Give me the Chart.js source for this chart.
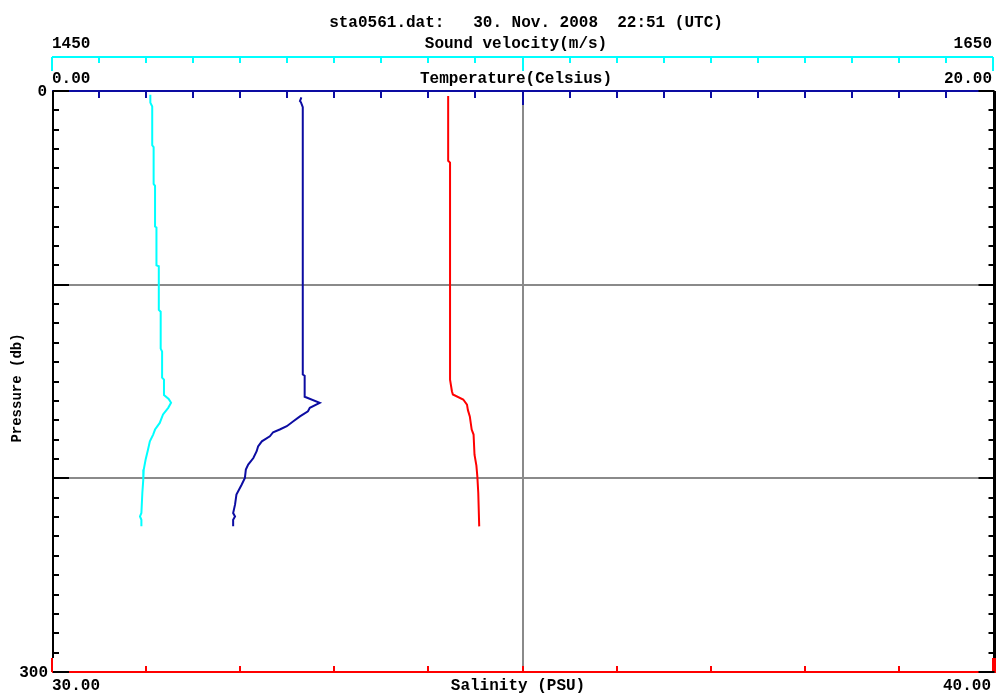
<!DOCTYPE html>
<html>
<head>
<meta charset="utf-8">
<title>sta0561 CTD profile</title>
<script src="https://cdn.jsdelivr.net/npm/chart.js@4"></script>
<style>
    html, body { margin: 0; padding: 0; background: #fff; }
    #wrap { width: 996px; height: 696px; position: relative; }
</style>
</head>
<body>
<div id="wrap"><canvas id="ctdChart"></canvas></div>
<script>
// Daten aus sta0561.dat
const soundPressure = [2, 6, 8, 28, 29, 48, 49, 70, 70.5, 90, 90.5, 113, 114, 133, 134.5, 148, 149, 157, 159, 161,
    163.6, 167, 171.4, 174.8, 177.4, 180.9, 185.2, 190.3, 195.5, 200.7, 207.6, 217.9, 219.7, 221.4, 224.8];
const soundVelocity = [1470.9, 1470.9, 1471.3, 1471.3, 1471.6, 1471.6, 1471.9, 1471.9, 1472.2, 1472.2, 1472.7, 1472.7,
    1473.1, 1473.1, 1473.4, 1473.4, 1473.8, 1473.8, 1474.8, 1475.3, 1474.7, 1473.6, 1472.9, 1471.9, 1471.5, 1470.8,
    1470.4, 1469.9, 1469.5, 1469.4, 1469.2, 1469.0, 1468.7, 1469.0, 1469.0];

const tempPressure = [3.3, 5.2, 5.8, 8.4, 146.4, 147, 157.9, 161, 163.6, 165.4, 168, 170.5, 173.1, 174.8, 176.2,
    178.3, 180.9, 183.5, 186, 189.5, 192.9, 195.5, 199.8, 203.3, 208.4, 213.6, 217.9, 219.7, 221.4, 224.8];
const temperature = [5.30, 5.27, 5.29, 5.33, 5.33, 5.37, 5.37, 5.69, 5.48, 5.44, 5.27, 5.13, 4.99, 4.84, 4.70,
    4.63, 4.46, 4.38, 4.35, 4.28, 4.17, 4.12, 4.10, 4.03, 3.92, 3.89, 3.85, 3.89, 3.85, 3.85];

const salPressure = [2.6, 36, 37, 149, 155, 156.7, 159.3, 161.9, 164.8, 168, 174.8, 177.4, 187.8, 193.4, 199, 207.6, 224.8];
const salinity = [34.21, 34.21, 34.23, 34.23, 34.25, 34.26, 34.37, 34.41, 34.42, 34.44, 34.46, 34.48, 34.49, 34.51,
    34.52, 34.53, 34.54];

// Achsen
const soundRange = [1450, 1650];
const tempRange = [0, 20];
const salRange = [30, 40];
const pressRange = [0, 300];
const soundTicks = ['1450', '1650'];
const tempTicks = ['0.00', '20.00'];
const salTicks = ['30.00', '40.00'];
const pressTicks = ['0', '300'];
const pressGrid = [100, 200];

const titleText = 'sta0561.dat:   30. Nov. 2008  22:51 (UTC)';

const CYAN = '#00ffff';
const NAVY = '#0c0ca2';
const RED = '#ff0000';
const GREY = '#8a8a8a';
const FONT = 'bold 16px "Liberation Mono", "Courier New", monospace';

const toPoints = (xs, ps) => xs.map((v, i) => ({ x: v, y: ps[i] }));

function seg(ctx, x1, y1, x2, y2, color, w) {
    ctx.strokeStyle = color;
    ctx.lineWidth = w;
    ctx.beginPath();
    ctx.moveTo(x1, y1);
    ctx.lineTo(x2, y2);
    ctx.stroke();
}

function text(ctx, str, x, y, align) {
    ctx.textAlign = align;
    ctx.fillText(str, x, y);
}

const ctdAxes = {
    id: 'ctdAxes',
    beforeDatasetsDraw(chart) {
        const { ctx, chartArea: a, scales } = chart;
        ctx.save();
        // Gitterlinien
        pressGrid.forEach(p => {
            const y = Math.round(scales.y.getPixelForValue(p));
            seg(ctx, a.left, y, a.right, y, GREY, 2);
        });
        const xm = Math.round(scales.x.getPixelForValue((tempRange[0] + tempRange[1]) / 2));
        seg(ctx, xm, a.top, xm, a.bottom, GREY, 2);
        ctx.restore();
    },
    afterDatasetsDraw(chart) {
        const { ctx, chartArea: a, scales } = chart;
        const sv = scales.xSound, te = scales.x, sa = scales.xSal, pr = scales.y;
        ctx.save();

        // Schallgeschwindigkeit (oben, cyan)
        const ys = a.top - 34;
        seg(ctx, a.left, ys, a.right, ys, CYAN, 2);
        for (let i = 0; i <= 20; i++) {
            const x = Math.round(sv.getPixelForValue(soundRange[0] + i * 10));
            const big = i === 0 || i === 10 || i === 20;
            seg(ctx, x, ys, x, ys + (big ? 14 : 6), CYAN, 2);
        }

        // Temperatur (oben, blau)
        const yt = a.top;
        for (let i = 1; i < 20; i++) {
            const x = Math.round(te.getPixelForValue(tempRange[0] + i));
            seg(ctx, x, yt, x, yt + (i === 10 ? 14 : 7), NAVY, 2);
        }
        seg(ctx, a.left, yt, a.right, yt, NAVY, 2);

        // Salzgehalt (unten, rot)
        const yb = a.bottom;
        seg(ctx, a.left, yb, a.right, yb, RED, 2);
        for (let i = 0; i <= 10; i++) {
            const x = Math.round(sa.getPixelForValue(salRange[0] + i));
            const end = i === 0 || i === 10;
            seg(ctx, x, yb, x, yb - (end ? 14 : 6), RED, 2);
        }

        // Druck (links und rechts, schwarz)
        const xl = a.left + 1, xr = a.right + 1.5;
        seg(ctx, xl, a.top, xl, a.bottom - 14, '#000', 2);
        seg(ctx, xr, a.top, xr, a.bottom - 14, '#000', 3);
        seg(ctx, xr, a.bottom - 14, xr, a.bottom + 1, RED, 3);
        for (let p = pressRange[0]; p <= pressRange[1]; p += 10) {
            const y = Math.round(pr.getPixelForValue(p));
            const len = p % 100 === 0 ? 16 : 6;
            seg(ctx, xl, y, xl + len, y, '#000', 2);
            seg(ctx, xr, y, xr - len, y, '#000', 2);
        }

        // Beschriftung
        ctx.fillStyle = '#000';
        ctx.font = FONT;
        ctx.textBaseline = 'alphabetic';
        text(ctx, titleText, 526, 27, 'center');
        text(ctx, soundTicks[0], a.left, 48, 'left');
        text(ctx, 'Sound velocity(m/s)', 516, 48, 'center');
        text(ctx, soundTicks[1], 992, 48, 'right');
        text(ctx, tempTicks[0], a.left, 83, 'left');
        text(ctx, 'Temperature(Celsius)', 516, 83, 'center');
        text(ctx, tempTicks[1], 992, 83, 'right');
        text(ctx, salTicks[0], a.left, 690, 'left');
        text(ctx, 'Salinity (PSU)', 518, 690, 'center');
        text(ctx, salTicks[1], 991, 690, 'right');

        ctx.textBaseline = 'middle';
        text(ctx, pressTicks[0], 47, pr.getPixelForValue(pressRange[0]) + 1, 'right');
        text(ctx, pressTicks[1], 48, pr.getPixelForValue(pressRange[1]) + 1, 'right');

        ctx.font = 'bold 14px "Liberation Mono", "Courier New", monospace';
        ctx.translate(17, 388);
        ctx.rotate(-Math.PI / 2);
        text(ctx, 'Pressure (db)', 0, 0, 'center');
        ctx.restore();
    }
};

const lineStyle = { showLine: true, borderWidth: 2, pointRadius: 0, tension: 0, fill: false };

new Chart(document.getElementById('ctdChart').getContext('2d'), {
    type: 'scatter',
    data: {
        datasets: [
            { label: 'Sound velocity', data: toPoints(soundVelocity, soundPressure), xAxisID: 'xSound', borderColor: CYAN, ...lineStyle },
            { label: 'Temperature', data: toPoints(temperature, tempPressure), xAxisID: 'x', borderColor: NAVY, ...lineStyle },
            { label: 'Salinity', data: toPoints(salinity, salPressure), xAxisID: 'xSal', borderColor: RED, ...lineStyle }
        ]
    },
    options: {
        responsive: true,
        maintainAspectRatio: false,
        animation: false,
        layout: { padding: { left: 52, right: 3, top: 91, bottom: 24 } },
        plugins: { legend: { display: false }, tooltip: { enabled: false } },
        scales: {
            x: { type: 'linear', min: tempRange[0], max: tempRange[1], display: false },
            xSound: { type: 'linear', axis: 'x', min: soundRange[0], max: soundRange[1], display: false },
            xSal: { type: 'linear', axis: 'x', min: salRange[0], max: salRange[1], display: false },
            y: { type: 'linear', min: pressRange[0], max: pressRange[1], reverse: true, display: false }
        }
    },
    plugins: [ctdAxes]
});
</script>
</body>
</html>
